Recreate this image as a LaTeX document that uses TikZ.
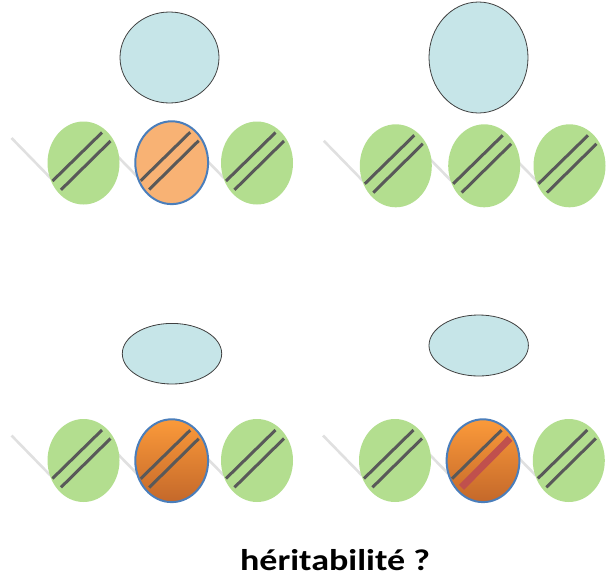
\documentclass[tikz,border=0pt]{standalone}
\usepackage{fontspec}
\setmainfont{Carlito}
\definecolor{cyto}{HTML}{C6E5E8}
\definecolor{cytoline}{HTML}{404040}
\definecolor{leafgreen}{HTML}{B3DE8F}
\definecolor{palorange}{HTML}{F8B274}
\definecolor{orangetop}{HTML}{FB9A3A}
\definecolor{orangebot}{HTML}{C4682A}
\definecolor{rimblue}{HTML}{4A7EBB}
\definecolor{chromgray}{HTML}{595959}
\definecolor{stickgray}{HTML}{E0E0E0}
\definecolor{mutred}{HTML}{C0504D}
\begin{document}
\begin{tikzpicture}[x=1pt,y=-1pt,
  cell/.style={fill=cyto,draw=cytoline,line width=0.8pt},
  stick/.style={draw=stickgray,line width=2.6pt},
  chromo/.style={draw=chromgray,line width=3pt},
  band/.style={draw=mutred,line width=7pt},
  rim/.style={draw=rimblue,line width=2pt}]
\useasboundingbox (0,0) rectangle (607,581);
% background sticks
\foreach \cx/\cy in {83.5/163,171.7/163,257/163,395.8/165.8,484.2/165.8,569.5/165.8,
                     83.5/460.5,171.7/460.5,257/460.5,395/460.5,483/460.5,568.8/460.5}
  \draw[stick] ({\cx-72},{\cy-25}) -- ({\cx-33},{\cy+15});
% cells
\draw[cell] (169.5,57.5) ellipse [x radius=49.5, y radius=45.5];
\draw[cell] (478.5,57.5) ellipse [x radius=49.5, y radius=55.5];
\draw[cell] (172,353.7) ellipse [x radius=49.7, y radius=30.3];
\draw[cell] (478.7,345.5) ellipse [x radius=49.7, y radius=30.5];
% green ellipses
\foreach \cx/\cy in {83.5/163,257/163,395.8/165.8,484.2/165.8,569.5/165.8,
                     83.5/460.5,257/460.5,395/460.5,568.8/460.5}
  \fill[leafgreen] (\cx,\cy) ellipse [x radius=36, y radius=41.5];
% orange ellipses
\filldraw[fill=palorange,rim] (171.7,162.7) ellipse [x radius=36.4, y radius=41.4];
\shade[top color=orangetop,bottom color=orangebot] (171.7,460.7) ellipse [x radius=36.4, y radius=41.4];
\draw[rim] (171.7,460.7) ellipse [x radius=36.4, y radius=41.4];
\shade[top color=orangetop,bottom color=orangebot] (483,460.7) ellipse [x radius=36.4, y radius=41.4];
\draw[rim] (483,460.7) ellipse [x radius=36.4, y radius=41.4];
% chromatid pairs
\foreach \cx/\cy in {83.5/163,171.7/162.7,257/163,395.8/165.8,484.2/165.8,569.5/165.8,
                     83.5/460.5,171.7/460.7,257/460.5,395/460.5,568.8/460.5}{
  \draw[chromo] ({\cx-31},{\cy+18}) -- ({\cx+18.5},{\cy-30.5});
  \draw[chromo] ({\cx-22.5},{\cy+26.8}) -- ({\cx+27},{\cy-22});
}
\draw[chromo] ({483-31},{460.7+18}) -- ({483+18.5},{460.7-30.5});
\draw[band] ({483-21.5},{460.7+26.7}) -- ({483+27},{460.7-22.3});
% caption
\node[font=\bfseries\fontsize{30}{36}\selectfont,anchor=base,xscale=1.2,inner sep=0pt] (q) at (335,570) {héritabilité ?};
\end{tikzpicture}
\end{document}
